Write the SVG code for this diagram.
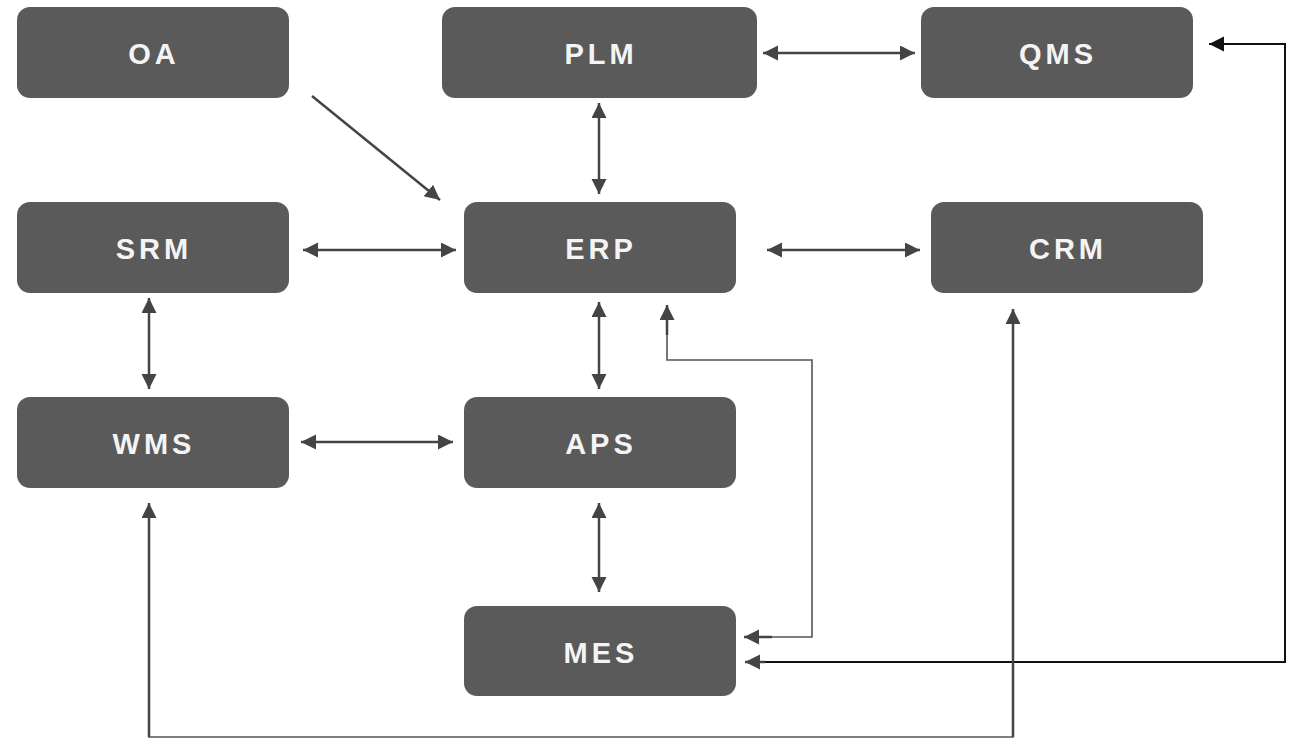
<svg xmlns="http://www.w3.org/2000/svg" width="1294" height="739" viewBox="0 0 1294 739">
<style>
.box{fill:#5a5a5a}
.lbl{fill:#f4f4f4;font-family:"Liberation Sans",Arial,sans-serif;font-weight:bold;font-size:29px;letter-spacing:4px;text-anchor:middle}
.c{fill:none;stroke:#444;stroke-width:2.5}
.t{fill:none;stroke:#555;stroke-width:1.6}
.k{fill:none;stroke:#111;stroke-width:2}
</style>
<defs>
<marker id="a" markerUnits="userSpaceOnUse" markerWidth="16" markerHeight="16" refX="15" refY="7.5" orient="auto-start-reverse" viewBox="0 0 16 16">
<path d="M0,0 L15,7.5 L0,15 z" fill="#444"/>
</marker>
<marker id="ak" markerUnits="userSpaceOnUse" markerWidth="16" markerHeight="16" refX="15" refY="7.5" orient="auto-start-reverse" viewBox="0 0 16 16">
<path d="M0,0 L15,7.5 L0,15 z" fill="#111"/>
</marker>
</defs>
<rect width="1294" height="739" fill="#fff"/>
<g id="connectors">
<line class="c" x1="312" y1="96" x2="440" y2="200" marker-end="url(#a)"/>
<line class="c" x1="763" y1="53" x2="915" y2="53" marker-start="url(#a)" marker-end="url(#a)"/>
<line class="c" x1="599" y1="103" x2="599" y2="194" marker-start="url(#a)" marker-end="url(#a)"/>
<line class="c" x1="303" y1="250" x2="456" y2="250" marker-start="url(#a)" marker-end="url(#a)"/>
<line class="c" x1="767" y1="250" x2="920" y2="250" marker-start="url(#a)" marker-end="url(#a)"/>
<line class="c" x1="149" y1="298" x2="149" y2="389" marker-start="url(#a)" marker-end="url(#a)"/>
<line class="c" x1="599" y1="302" x2="599" y2="389" marker-start="url(#a)" marker-end="url(#a)"/>
<line class="c" x1="301" y1="442" x2="453" y2="442" marker-start="url(#a)" marker-end="url(#a)"/>
<line class="c" x1="599" y1="503" x2="599" y2="592" marker-start="url(#a)" marker-end="url(#a)"/>
<polyline class="t" points="667,330 667,360 812,360 812,637 770,637"/>
<line class="c" x1="667" y1="335" x2="667" y2="305" marker-end="url(#a)"/>
<line class="c" x1="772" y1="637" x2="744" y2="637" marker-end="url(#a)"/>
<polyline class="k" points="1225,44 1285,44 1285,662 760,662"/>
<line class="k" x1="1230" y1="44" x2="1209" y2="44" marker-end="url(#ak)"/>
<line class="c" x1="765" y1="662" x2="745" y2="662" marker-end="url(#a)"/>
<polyline class="t" points="149,700 149,737 1013,737 1013,700"/>
<line class="c" x1="149" y1="737" x2="149" y2="503" marker-end="url(#a)"/>
<line class="c" x1="1013" y1="737" x2="1013" y2="309" marker-end="url(#a)"/>
</g>
<g id="OA"><rect class="box" x="17" y="7" width="272" height="91" rx="13"/><text class="lbl" x="154" y="64">OA</text></g>
<g id="PLM"><rect class="box" x="442" y="7" width="315" height="91" rx="13"/><text class="lbl" x="601" y="64">PLM</text></g>
<g id="QMS"><rect class="box" x="921" y="7" width="272" height="91" rx="13"/><text class="lbl" x="1058" y="64">QMS</text></g>
<g id="SRM"><rect class="box" x="17" y="202" width="272" height="91" rx="13"/><text class="lbl" x="154" y="259">SRM</text></g>
<g id="ERP"><rect class="box" x="464" y="202" width="272" height="91" rx="13"/><text class="lbl" x="601" y="259">ERP</text></g>
<g id="CRM"><rect class="box" x="931" y="202" width="272" height="91" rx="13"/><text class="lbl" x="1068" y="259">CRM</text></g>
<g id="WMS"><rect class="box" x="17" y="397" width="272" height="91" rx="13"/><text class="lbl" x="154" y="454">WMS</text></g>
<g id="APS"><rect class="box" x="464" y="397" width="272" height="91" rx="13"/><text class="lbl" x="601" y="454">APS</text></g>
<g id="MES"><rect class="box" x="464" y="606" width="272" height="90" rx="13"/><text class="lbl" x="601" y="663">MES</text></g>
</svg>
